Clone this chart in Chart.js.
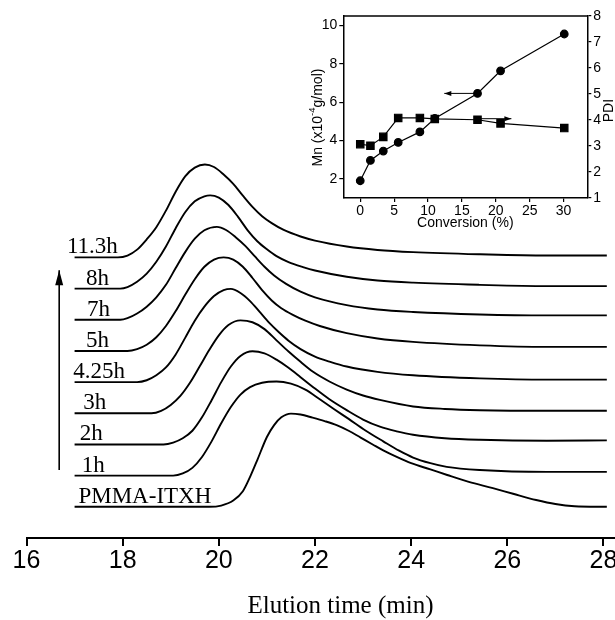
<!DOCTYPE html>
<html>
<head>
<meta charset="utf-8">
<script src="https://cdn.jsdelivr.net/npm/chart.js@4.4.0/dist/chart.umd.min.js"></script>
<style>
  html, body { margin: 0; padding: 0; background: #fff; }
  #wrap { position: relative; width: 615px; height: 620px; overflow: hidden; background: #fff; }
  #main { position: absolute; left: 0; top: 0; }
  #inset { position: absolute; left: 300px; top: 0; }
</style>
</head>
<body>
<div id="wrap">
  <canvas id="main" width="615" height="620"></canvas>
  <canvas id="inset" width="315" height="240"></canvas>
</div>
<script>
// ---- main GPC traces: [elution time (min), intensity] ----
const elutionTicks = [16, 18, 20, 22, 24, 26, 28];
const traceNames = ['PMMA-ITXH', '1h', '2h', '3h', '4.25h', '5h', '7h', '8h', '11.3h'];
const nameTime = [17.08, 17.15, 17.11, 17.18, 16.97, 17.24, 17.26, 17.24, 16.84];
const traceStep = 1;

const tracePMMA = [[17,0],[19.8,0],[20.05,0.04],[20.3,0.2],[20.5,0.5],[20.65,0.96],[20.8,1.5],[21.0,2.24],[21.15,2.62],[21.3,2.87],[21.5,2.99],[21.7,2.96],[21.95,2.86],[22.2,2.75],[22.45,2.62],[22.7,2.44],[22.95,2.22],[23.2,2.0],[23.42,1.81],[23.7,1.6],[24.0,1.4],[24.4,1.2],[24.75,1.02],[25.2,0.8],[25.7,0.6],[26.12,0.42],[26.6,0.22],[27.0,0.09],[27.4,0.02],[28.07,0]];
const trace1h = [[17,0],[19.05,0],[19.25,0.07],[19.45,0.25],[19.65,0.6],[19.85,1.1],[20.05,1.68],[20.25,2.2],[20.45,2.6],[20.65,2.84],[20.9,2.98],[21.2,3.02],[21.5,2.95],[21.8,2.76],[22.1,2.45],[22.4,2.13],[22.7,1.82],[23.05,1.45],[23.42,1.1],[23.75,0.8],[24.04,0.58],[24.4,0.4],[24.74,0.28],[25.43,0.18],[26.82,0.12],[28.07,0.12]];
const trace2h = [[17,0],[18.85,0],[19.05,0.06],[19.25,0.2],[19.45,0.44],[19.65,0.87],[19.85,1.42],[20.05,2.0],[20.25,2.5],[20.45,2.84],[20.7,2.99],[20.95,2.92],[21.2,2.72],[21.45,2.46],[21.7,2.16],[21.97,1.83],[22.3,1.45],[22.66,1.1],[23.0,0.8],[23.35,0.57],[23.7,0.42],[24.04,0.31],[24.7,0.2],[25.43,0.15],[26.82,0.12],[28.07,0.13]];
const trace3h = [[17,0],[18.6,0],[18.8,0.08],[19.0,0.27],[19.2,0.56],[19.4,0.98],[19.6,1.5],[19.8,2.03],[20.0,2.5],[20.2,2.83],[20.45,2.98],[20.7,2.92],[20.95,2.7],[21.2,2.34],[21.45,1.98],[21.7,1.65],[21.96,1.33],[22.3,1.02],[22.66,0.76],[23.0,0.57],[23.35,0.43],[24.04,0.22],[24.7,0.14],[25.43,0.1],[26.82,0.08],[28.07,0.08]];
const trace425h = [[17,0],[18.3,0],[18.5,0.06],[18.7,0.22],[18.9,0.47],[19.1,0.88],[19.3,1.42],[19.5,1.97],[19.7,2.42],[19.9,2.76],[20.1,2.95],[20.25,2.99],[20.45,2.86],[20.65,2.6],[20.85,2.25],[21.05,1.9],[21.25,1.6],[21.45,1.33],[21.7,1.06],[22.0,0.82],[22.3,0.66],[22.66,0.5],[23.3,0.33],[24.04,0.22],[25.43,0.12],[26.82,0.08],[28.07,0.08]];
const trace5h = [[17,0],[18.1,0],[18.3,0.06],[18.5,0.2],[18.7,0.44],[18.9,0.8],[19.1,1.27],[19.3,1.8],[19.5,2.3],[19.7,2.7],[19.9,2.93],[20.1,3.0],[20.3,2.93],[20.5,2.7],[20.7,2.34],[20.9,1.95],[21.1,1.62],[21.3,1.37],[21.55,1.15],[21.8,0.97],[22.1,0.8],[22.66,0.57],[23.3,0.4],[24.04,0.29],[25.43,0.18],[26.82,0.13],[28.07,0.13]];
const trace7h = [[17,0],[17.95,0],[18.1,0.05],[18.3,0.2],[18.5,0.42],[18.7,0.72],[18.9,1.12],[19.1,1.65],[19.3,2.17],[19.5,2.6],[19.7,2.87],[19.96,2.98],[20.15,2.88],[20.35,2.65],[20.55,2.37],[20.75,2.03],[20.95,1.7],[21.15,1.42],[21.4,1.15],[21.7,0.9],[22.0,0.72],[22.66,0.47],[23.3,0.33],[24.04,0.25],[25.43,0.17],[26.82,0.14],[28.07,0.14]];
const trace8h = [[17,0],[17.95,0],[18.1,0.05],[18.3,0.22],[18.5,0.48],[18.7,0.86],[18.9,1.35],[19.1,1.93],[19.3,2.45],[19.5,2.8],[19.7,2.96],[19.82,2.99],[20.0,2.92],[20.2,2.68],[20.4,2.3],[20.6,1.87],[20.8,1.52],[21.0,1.26],[21.2,1.04],[21.45,0.85],[21.75,0.69],[22.0,0.58],[22.66,0.38],[23.3,0.26],[24.04,0.19],[25.43,0.12],[26.82,0.08],[28.07,0.08]];
const trace113h = [[17,0],[17.9,0],[18.1,0.06],[18.3,0.25],[18.5,0.58],[18.7,0.97],[18.9,1.5],[19.1,2.1],[19.3,2.6],[19.5,2.88],[19.71,2.98],[19.9,2.9],[20.1,2.66],[20.3,2.36],[20.5,1.98],[20.7,1.62],[20.9,1.32],[21.1,1.1],[21.35,0.88],[21.7,0.67],[22.0,0.54],[22.66,0.35],[23.3,0.24],[24.04,0.17],[25.43,0.1],[26.82,0.06],[28.07,0.06]];
const traces = [tracePMMA, trace1h, trace2h, trace3h, trace425h, trace5h, trace7h, trace8h, trace113h];
const timeArrow = [[16.68, 1.18], [16.68, 7.59]];

// ---- inset: Mn and PDI vs conversion ----
const conversion = [0, 1.5, 3.4, 5.6, 8.8, 11.0, 17.3, 20.7, 30.1];
const mnValues = [1.9, 2.96, 3.45, 3.9, 4.45, 5.15, 6.46, 7.64, 9.56];
const pdiValues = [3.07, 3.01, 3.35, 4.08, 4.08, 4.04, 4.01, 3.87, 3.69];
const convTicks = [0, 5, 10, 15, 20, 25, 30];
const mnTicks = [2, 4, 6, 8, 10];
const pdiTicks = [1, 2, 3, 4, 5, 6, 7, 8];
const mnArrow = [[17.1, 6.46], [12.4, 6.46]];
const pdiArrow = [[17.5, 4.05], [22.3, 4.05]];

const SANS = "'Liberation Sans', Arial, sans-serif";
const SERIF = "'Liberation Serif', 'Times New Roman', serif";

function arrowHead(ctx, from, to, len, half) {
    const a = Math.atan2(to.y - from.y, to.x - from.x);
    ctx.save();
    ctx.translate(to.x, to.y);
    ctx.rotate(a);
    ctx.beginPath();
    ctx.moveTo(0, 0);
    ctx.lineTo(-len, -half);
    ctx.lineTo(-len, half);
    ctx.closePath();
    ctx.fillStyle = '#000';
    ctx.fill();
    ctx.restore();
}

const arrowPlugin = {
    id: 'arrows',
    afterDatasetsDraw(chart) {
        chart.data.datasets.forEach((ds, i) => {
            if (!ds.arrowHead) return;
            const pts = chart.getDatasetMeta(i).data;
            arrowHead(chart.ctx, pts[0], pts[pts.length - 1], ds.arrowHead[0], ds.arrowHead[1]);
        });
    }
};

const mainText = {
    id: 'mainText',
    afterDraw(chart) {
        const ctx = chart.ctx;
        const xs = chart.scales.x, ys = chart.scales.y;
        ctx.save();
        ctx.fillStyle = '#000';
        ctx.font = '23px ' + SERIF;
        ctx.textAlign = 'left';
        ctx.textBaseline = 'alphabetic';
        traceNames.forEach((name, k) => {
            ctx.fillText(name, xs.getPixelForValue(nameTime[k]), ys.getPixelForValue(k * traceStep + 0.13));
        });
        ctx.font = '25px ' + SERIF;
        ctx.textAlign = 'center';
        ctx.textBaseline = 'middle';
        ctx.fillText('Elution time (min)', xs.getPixelForValue(22.53), 606);
        ctx.restore();
    }
};

const mainDatasets = traces.map((tr, k) => ({
    data: tr.map(p => ({ x: p[0], y: p[1] + k * traceStep })),
    borderColor: '#000',
    borderWidth: 1.9,
    pointRadius: 0,
    fill: false,
    cubicInterpolationMode: 'monotone'
}));
mainDatasets.push({
    data: timeArrow.map(p => ({ x: p[0], y: p[1] })),
    borderColor: '#000',
    borderWidth: 1.6,
    pointRadius: 0,
    arrowHead: [15, 4]
});

new Chart(document.getElementById('main'), {
    type: 'line',
    data: { datasets: mainDatasets },
    options: {
        responsive: false,
        animation: false,
        devicePixelRatio: 1,
        layout: { padding: { left: 26.5, right: 0, top: 8, bottom: 0 } },
        plugins: { legend: { display: false }, tooltip: { enabled: false } },
        scales: {
            x: {
                type: 'linear',
                min: 16,
                max: 28.24,
                afterBuildTicks: s => { s.ticks = elutionTicks.map(v => ({ value: v })); },
                afterFit: s => { s.height = 82; s.paddingLeft = 0; s.paddingRight = 0; },
                grid: { drawOnChartArea: false, drawTicks: true, tickLength: 8, color: '#000', lineWidth: 2 },
                border: { display: true, color: '#000', width: 2 },
                ticks: {
                    color: '#000',
                    padding: 0,
                    maxRotation: 0,
                    autoSkip: false,
                    font: { family: SANS, size: 25 }
                }
            },
            y: { display: false, min: -1, max: 16 }
        }
    },
    plugins: [arrowPlugin, mainText]
});

// ---- inset chart ----
const insetText = {
    id: 'insetText',
    afterDraw(chart) {
        const ctx = chart.ctx;
        const a = chart.chartArea;
        ctx.save();
        ctx.strokeStyle = '#000';
        ctx.lineWidth = 1.5;
        ctx.beginPath();
        ctx.moveTo(a.left, a.top);
        ctx.lineTo(a.right, a.top);
        ctx.stroke();

        ctx.fillStyle = '#000';
        // left title with superscript
        const parts = [['Mn (x10', 14, 0], ['-4', 9.5, -6], ['g/mol)', 14, 0]];
        let total = 0;
        parts.forEach(p => { ctx.font = p[1] + 'px ' + SANS; total += ctx.measureText(p[0]).width; });
        ctx.translate(18.5, chart.scales.y.getPixelForValue(5.2));
        ctx.rotate(-Math.PI / 2);
        ctx.textBaseline = 'middle';
        ctx.textAlign = 'left';
        let x = -total / 2;
        parts.forEach(p => {
            ctx.font = p[1] + 'px ' + SANS;
            ctx.fillText(p[0], x, p[2]);
            x += ctx.measureText(p[0]).width;
        });
        ctx.restore();

        ctx.save();
        ctx.fillStyle = '#000';
        ctx.font = '14px ' + SANS;
        ctx.translate(309.5, chart.scales.y2.getPixelForValue(4.36));
        ctx.rotate(-Math.PI / 2);
        ctx.textAlign = 'center';
        ctx.textBaseline = 'middle';
        ctx.fillText('PDI', 0, 0);
        ctx.restore();
    }
};

const tickFont = { family: SANS, size: 14 };

new Chart(document.getElementById('inset'), {
    type: 'line',
    data: {
        datasets: [
            {
                data: conversion.map((c, i) => ({ x: c, y: mnValues[i] })),
                yAxisID: 'y',
                borderColor: '#000',
                borderWidth: 1.2,
                pointStyle: 'circle',
                pointRadius: 3.8,
                pointBackgroundColor: '#000',
                pointBorderColor: '#000',
                tension: 0
            },
            {
                data: conversion.map((c, i) => ({ x: c, y: pdiValues[i] })),
                yAxisID: 'y2',
                borderColor: '#000',
                borderWidth: 1.2,
                pointStyle: 'rect',
                pointRadius: 5.2,
                pointBackgroundColor: '#000',
                pointBorderColor: '#000',
                tension: 0
            },
            {
                data: mnArrow.map(p => ({ x: p[0], y: p[1] })),
                yAxisID: 'y',
                borderColor: '#000',
                borderWidth: 1,
                pointRadius: 0,
                arrowHead: [7, 2.5]
            },
            {
                data: pdiArrow.map(p => ({ x: p[0], y: p[1] })),
                yAxisID: 'y2',
                borderColor: '#000',
                borderWidth: 1,
                pointRadius: 0,
                arrowHead: [7, 2.5]
            }
        ]
    },
    options: {
        responsive: false,
        animation: false,
        devicePixelRatio: 1,
        layout: { padding: { left: 0, right: 0, top: 16, bottom: 0 } },
        plugins: { legend: { display: false }, tooltip: { enabled: false } },
        scales: {
            x: {
                type: 'linear',
                min: -2.5,
                max: 33.5,
                afterBuildTicks: s => { s.ticks = convTicks.map(v => ({ value: v })); },
                afterFit: s => { s.height = 42; s.paddingLeft = 0; s.paddingRight = 0; },
                grid: { drawOnChartArea: false, tickLength: 4, color: '#000', lineWidth: 1.2 },
                border: { color: '#000', width: 1.5 },
                ticks: { color: '#000', font: tickFont, padding: 1, maxRotation: 0, autoSkip: false },
                title: { display: true, text: 'Conversion (%)', color: '#000', font: { family: SANS, size: 14 }, padding: { top: 0, bottom: 8 } }
            },
            y: {
                position: 'left',
                min: 1,
                max: 10.5,
                afterBuildTicks: s => { s.ticks = mnTicks.map(v => ({ value: v })); },
                afterFit: s => { s.width = 43.3; s.paddingTop = 0; s.paddingBottom = 0; },
                grid: { drawOnChartArea: false, tickLength: 4, color: '#000', lineWidth: 1.2 },
                border: { color: '#000', width: 1.5 },
                ticks: { color: '#000', font: tickFont, padding: 2 }
            },
            y2: {
                position: 'right',
                min: 1,
                max: 8,
                afterBuildTicks: s => { s.ticks = pdiTicks.map(v => ({ value: v })); },
                afterFit: s => { s.width = 27.7; s.paddingTop = 0; s.paddingBottom = 0; },
                grid: { drawOnChartArea: false, tickLength: 4, color: '#000', lineWidth: 1.2 },
                border: { color: '#000', width: 1.5 },
                ticks: { color: '#000', font: tickFont, padding: 2 }
            }
        }
    },
    plugins: [arrowPlugin, insetText]
});
</script>
</body>
</html>
